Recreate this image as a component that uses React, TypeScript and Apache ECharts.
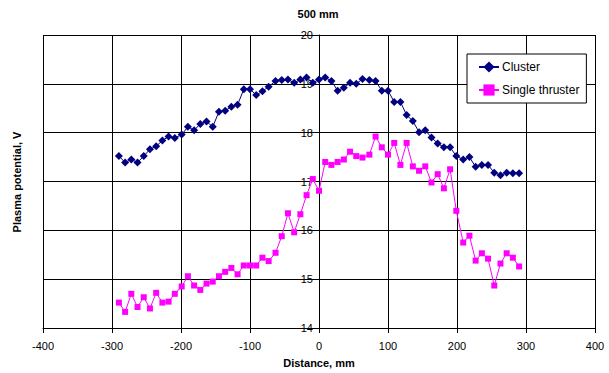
import React, { useEffect, useRef } from "react";
import * as echarts from "echarts";

const distances = [
  -290, -281, -272, -263, -254, -245, -236, -227, -218, -209,
  -199, -190, -181, -172, -163, -154, -145, -136, -127, -118,
  -109, -100, -91, -82, -73, -63, -54, -45, -36, -27,
  -18, -9, 0, 9, 18, 27, 36, 45, 54, 63,
  73, 82, 91, 100, 109, 118, 127, 136, 145, 154,
  163, 172, 181, 190, 199, 209, 218, 227, 236, 245,
  254, 263, 272, 281, 290,
];

const clusterValues = [
  17.52, 17.39, 17.45, 17.39, 17.52, 17.66, 17.72, 17.84, 17.92, 17.89,
  17.96, 18.12, 18.05, 18.18, 18.23, 18.12, 18.43, 18.45, 18.53, 18.57,
  18.89, 18.89, 18.77, 18.85, 18.94, 19.06, 19.08, 19.09, 19.02, 19.09,
  19.13, 19.02, 19.09, 19.13, 19.06, 18.86, 18.92, 19.02, 19.0, 19.1,
  19.08, 19.06, 18.86, 18.86, 18.63, 18.63, 18.36, 18.24, 18.01, 18.05,
  17.9, 17.78, 17.7, 17.7, 17.52, 17.45, 17.5, 17.3, 17.34, 17.34,
  17.18, 17.13, 17.18, 17.17, 17.17,
];

const singleValues = [
  14.52, 14.33, 14.7, 14.43, 14.63, 14.4, 14.72, 14.52, 14.54, 14.7,
  14.85, 15.06, 14.87, 14.78, 14.91, 14.95, 15.06, 15.15, 15.23, 15.1,
  15.28, 15.28, 15.28, 15.44, 15.37, 15.54, 15.88, 16.35, 15.96, 16.33,
  16.72, 17.05, 16.81, 17.4, 17.34, 17.4, 17.45, 17.61, 17.52, 17.49,
  17.55, 17.92, 17.7, 17.55, 17.79, 17.34, 17.79, 17.31, 17.22, 17.31,
  16.98, 17.15, 16.86, 17.25, 16.4, 15.75, 15.89, 15.38, 15.53, 15.42,
  14.87, 15.32, 15.53, 15.44, 15.26,
];

const seriesNames = ["Cluster", "Single thruster"];
const titleText = "500 mm";
const xAxisName = "Distance, mm";
const yAxisName = "Plasma potential, V";

const FONT = 'Arial, "Liberation Sans", sans-serif';

export default function App() {
  const ref = useRef<HTMLDivElement>(null);

  useEffect(() => {
    document.body.style.margin = "0";
    if (!ref.current) return;
    const chart = echarts.init(ref.current, null, { renderer: "svg" });
    const pair = (vals: number[]) => distances.map((d, i) => [d, vals[i]]);
    chart.setOption({
      animation: false,
      backgroundColor: "#fff",
      textStyle: { fontFamily: FONT },
      grid: { left: 43, right: 14, top: 35, bottom: 44, containLabel: false },
      legend: {
        orient: "vertical",
        left: 467,
        top: 54,
        padding: [7, 7, 7, 11],
        itemGap: 11,
        itemWidth: 20,
        itemHeight: 14,
        backgroundColor: "#fff",
        borderColor: "#000",
        borderWidth: 1,
        borderRadius: 0,
        textStyle: { fontFamily: FONT, fontSize: 12, color: "#000", padding: [0, 0, 0, -2] },
        data: seriesNames,
      },
      xAxis: {
        type: "value",
        min: -400,
        max: 400,
        interval: 100,
        name: xAxisName,
        nameLocation: "middle",
        nameGap: 29,
        nameTextStyle: { fontFamily: FONT, fontSize: 11, fontWeight: "bold", color: "#000" },
        axisLine: { show: true, onZero: false, lineStyle: { color: "#000", width: 1 } },
        axisTick: { show: true, length: 5, lineStyle: { color: "#000" } },
        axisLabel: { margin: 12, fontFamily: FONT, fontSize: 11, color: "#000" },
        splitLine: { show: true, lineStyle: { color: "#000", width: 1 } },
      },
      yAxis: {
        type: "value",
        min: 14,
        max: 20,
        interval: 1,
        position: "left",
        offset: -276,
        axisLine: { show: true, onZero: false, lineStyle: { color: "#000", width: 1 } },
        axisTick: { show: true, length: 4, lineStyle: { color: "#000" } },
        axisLabel: { margin: 6, fontFamily: FONT, fontSize: 11, color: "#000" },
        splitLine: { show: true, lineStyle: { color: "#000", width: 1 } },
      },
      graphic: [
        {
          type: "text",
          x: 318,
          y: 14,
          style: {
            text: titleText,
            font: `bold 11px ${FONT}`,
            fill: "#000",
            textAlign: "center",
            textVerticalAlign: "middle",
          },
        },
        {
          type: "text",
          x: 17,
          y: 182,
          rotation: Math.PI / 2,
          style: {
            text: yAxisName,
            font: `bold 11px ${FONT}`,
            fill: "#000",
            textAlign: "center",
            textVerticalAlign: "middle",
          },
        },
      ],
      series: [
        {
          name: seriesNames[0],
          type: "line",
          data: pair(clusterValues),
          symbol: "diamond",
          symbolSize: 8,
          color: "#000080",
          lineStyle: { color: "#000080", width: 1 },
          itemStyle: { color: "#000080" },
          z: 3,
        },
        {
          name: seriesNames[1],
          type: "line",
          data: pair(singleValues),
          symbol: "rect",
          symbolSize: 6,
          color: "#FF00FF",
          lineStyle: { color: "#FF00FF", width: 1 },
          itemStyle: { color: "#FF00FF" },
          z: 2,
        },
      ],
    });
    return () => chart.dispose();
  }, []);

  return <div ref={ref} style={{ width: 609, height: 373 }} />;
}
